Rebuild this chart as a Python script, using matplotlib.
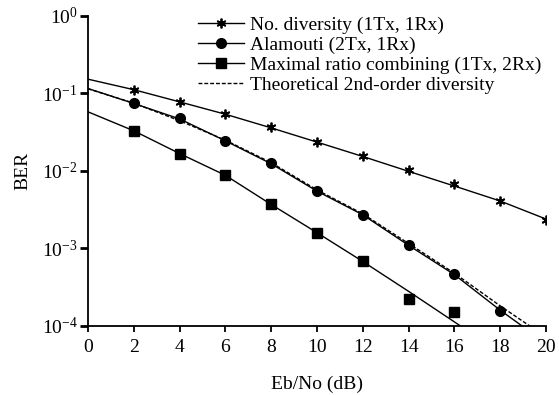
import matplotlib
matplotlib.use('Agg')
import matplotlib.pyplot as plt

plt.rcParams['font.family'] = ['Liberation Serif', 'DejaVu Serif']
plt.rcParams['mathtext.fontset'] = 'custom'
plt.rcParams['mathtext.rm'] = 'Liberation Serif'

# Eb/No grid (dB)
snr_line = [0, 2, 4, 6, 8, 10, 12, 14, 16, 18, 20]
snr_mark = [2, 4, 6, 8, 10, 12, 14, 16, 18, 20]
snr_alam_mark = [2, 4, 6, 8, 10, 12, 14, 16, 18]
snr_mrc_mark = [2, 4, 6, 8, 10, 12, 14, 16]

# curves
ber_nodiv_line = [0.153, 0.112, 0.078, 0.054, 0.036, 0.0236, 0.0154, 0.0099, 0.0064, 0.0041, 0.0024]
ber_nodiv_mark = [0.112, 0.078, 0.055, 0.037, 0.0238, 0.0157, 0.0102, 0.0068, 0.0041, 0.0023]

ber_alam_line = [0.116, 0.0744, 0.0470, 0.0245, 0.0124, 0.0055, 0.00272, 0.00110, 0.00046, 0.00016, 0.00006]
ber_alam_mark = [0.0744, 0.0477, 0.0245, 0.0125, 0.0055, 0.00274, 0.0011, 0.00047, 0.000155]

ber_mrc_line = [0.058, 0.033, 0.0168, 0.0088, 0.0037, 0.0016, 0.00068, 0.00028, 0.000113, 0.000045, 0.000018]
ber_mrc_mark = [0.033, 0.0168, 0.0088, 0.0037, 0.0016, 0.00069, 0.00022, 0.00015]

ber_theory = [0.115, 0.075, 0.0445, 0.0250, 0.0128, 0.0057, 0.0028, 0.00116, 0.00048, 0.000182, 0.000072]

labels = ['No. diversity (1Tx, 1Rx)', 'Alamouti (2Tx, 1Rx)',
          'Maximal ratio combining (1Tx, 2Rx)', 'Theoretical 2nd-order diversity']

fig = plt.figure(figsize=(5.59, 3.95), dpi=100)
ax = fig.add_axes([0.1574, 0.1747, 0.8193, 0.7848])

fs = 14
lw = 1.0
star = (6, 2, 0)
ax.plot(snr_line, ber_nodiv_line, color='k', lw=lw)
ax.plot(snr_mark, ber_nodiv_mark, ls='none', marker=star, color='k', ms=7, mew=1.3)
ax.plot(snr_line, ber_alam_line, color='k', lw=lw)
ax.plot(snr_alam_mark, ber_alam_mark, ls='none', marker='o', color='k', ms=7)
ax.plot(snr_line, ber_mrc_line, color='k', lw=lw)
ax.plot(snr_mrc_mark, ber_mrc_mark, ls='none', marker='s', color='k', ms=7)
ax.plot(snr_line, ber_theory, color='k', lw=lw, dashes=(2.8, 1.4))

# legend proxies (line + marker)
h1, = ax.plot([], [], color='k', lw=lw, marker=star, ms=7, mew=1.3)
h2, = ax.plot([], [], color='k', lw=lw, marker='o', ms=7)
h3, = ax.plot([], [], color='k', lw=lw, marker='s', ms=7)
h4, = ax.plot([], [], color='k', lw=lw, dashes=(2.8, 1.4))
ax.legend([h1, h2, h3, h4], labels, loc='upper left', frameon=False,
          bbox_to_anchor=(198 / 559, 1 - 16 / 395), bbox_transform=fig.transFigure,
          fontsize=fs, handlelength=2.35, handletextpad=0.3, labelspacing=0.12,
          borderpad=0, borderaxespad=0)

ax.set_yscale('log')
ax.set_xlim(0, 20)
ax.set_ylim(1e-4, 1)
ax.set_xticks(range(0, 21, 2))
ax.set_yticks([1e-4, 1e-3, 1e-2, 1e-1, 1])
ax.minorticks_off()
ax.spines['top'].set_visible(False)
ax.spines['right'].set_visible(False)
for s in ['left', 'bottom']:
    ax.spines[s].set_linewidth(1.3)
ax.tick_params(axis='x', direction='out', length=4.5, width=1.3, pad=5, labelsize=fs)
ax.tick_params(axis='y', direction='out', length=5.5, width=2.0, pad=2, labelsize=fs)

ax.set_xlabel('Eb/No (dB)', fontsize=fs, labelpad=14)
ax.set_ylabel('BER', fontsize=fs, labelpad=7)

fig.savefig('out.png', dpi=100)
